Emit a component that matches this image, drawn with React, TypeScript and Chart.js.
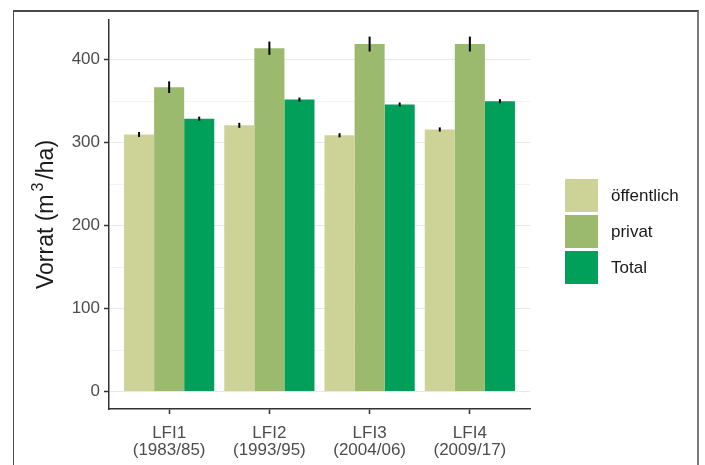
import React, { useEffect, useRef } from "react";
import { Chart, registerables } from "chart.js";

Chart.register(...registerables);

const categories: string[][] = [
  ["LFI1", "(1983/85)"],
  ["LFI2", "(1993/95)"],
  ["LFI3", "(2004/06)"],
  ["LFI4", "(2009/17)"],
];
const seriesNames = ["öffentlich", "privat", "Total"];
const oeffentlich = [310, 321, 309, 316];
const privat = [367, 414, 419, 419];
const total = [329, 352, 346, 350];
const errOeffentlich = [3, 3, 2.5, 2.5];
const errPrivat = [7, 8, 9, 9];
const errTotal = [2.5, 2.5, 2.5, 2.5];
const yTicks = [0, 50, 100, 150, 200, 250, 300, 350, 400];
const titleParts = ["Vorrat (m", "3", "/ha)"];
const colors = ["#cdd396", "#9bba6e", "#00a05a"];

const FONT = "'Liberation Sans', Arial, sans-serif";

const errorBarPlugin = {
  id: "errorBars",
  afterDatasetsDraw(chart: any) {
    const ctx = chart.ctx;
    const yScale = chart.scales.y;
    chart.data.datasets.forEach((ds: any, di: number) => {
      const meta = chart.getDatasetMeta(di);
      const errs: number[] = ds.errors || [];
      meta.data.forEach((bar: any, i: number) => {
        const v = ds.data[i].y;
        const e = errs[i] || 0;
        const y1 = yScale.getPixelForValue(v + e);
        const y2 = yScale.getPixelForValue(v - e);
        ctx.save();
        ctx.strokeStyle = "#000";
        ctx.lineWidth = 2;
        ctx.beginPath();
        ctx.moveTo(bar.x, y1);
        ctx.lineTo(bar.x, y2);
        ctx.stroke();
        ctx.restore();
      });
    });
  },
};

const legendPlugin = {
  id: "customLegend",
  afterDraw(chart: any) {
    const ctx = chart.ctx;
    const x0 = 565;
    const top = 179;
    const box = 33;
    const step = 36;
    ctx.save();
    chart.data.datasets.forEach((ds: any, i: number) => {
      const y = top + i * step;
      ctx.fillStyle = ds.backgroundColor;
      ctx.fillRect(x0, y, box, box);
      ctx.fillStyle = "#1a1a1a";
      ctx.font = `17px ${FONT}`;
      ctx.textBaseline = "middle";
      ctx.textAlign = "left";
      ctx.fillText(ds.label, x0 + 46, y + box / 2 + 1);
    });
    ctx.restore();
  },
};

const yTitlePlugin = {
  id: "yTitle",
  afterDraw(chart: any) {
    const ctx = chart.ctx;
    const area = chart.chartArea;
    const cx = 45;
    const cy = (area.top + area.bottom) / 2;
    const big = `23px ${FONT}`;
    const small = `16px ${FONT}`;
    ctx.save();
    ctx.fillStyle = "#1a1a1a";
    ctx.font = big;
    const w1 = ctx.measureText(titleParts[0]).width;
    const w3 = ctx.measureText(titleParts[2]).width;
    ctx.font = small;
    const w2 = ctx.measureText(titleParts[1]).width;
    const gap = 3;
    const totalW = w1 + gap + w2 + gap + w3;
    ctx.translate(cx, cy);
    ctx.rotate(-Math.PI / 2);
    ctx.textBaseline = "alphabetic";
    ctx.textAlign = "left";
    let x = -totalW / 2;
    const base = 8;
    ctx.font = big;
    ctx.fillText(titleParts[0], x, base);
    x += w1 + gap;
    ctx.font = small;
    ctx.fillText(titleParts[1], x, base - 10);
    x += w2 + gap;
    ctx.font = big;
    ctx.fillText(titleParts[2], x, base);
    ctx.restore();
  },
};

export default function App() {
  const ref = useRef<HTMLCanvasElement | null>(null);

  useEffect(() => {
    if (!ref.current) return;
    const mk = (vals: number[]) => vals.map((v, i) => ({ x: i, y: v }));
    const chart = new Chart(ref.current, {
      type: "bar",
      data: {
        datasets: [
          { label: seriesNames[0], data: mk(oeffentlich), backgroundColor: colors[0], errors: errOeffentlich } as any,
          { label: seriesNames[1], data: mk(privat), backgroundColor: colors[1], errors: errPrivat } as any,
          { label: seriesNames[2], data: mk(total), backgroundColor: colors[2], errors: errTotal } as any,
        ],
      },
      options: {
        animation: false,
        responsive: false,
        events: [],
        layout: { padding: { left: 0, top: 20, right: 175, bottom: 0 } },
        datasets: { bar: { categoryPercentage: 0.9, barPercentage: 1.0, borderWidth: 0 } },
        plugins: { legend: { display: false }, tooltip: { enabled: false } },
        scales: {
          x: {
            type: "linear",
            min: -0.6,
            max: 3.6,
            offset: false,
            afterBuildTicks: (axis: any) => {
              axis.ticks = categories.map((_, i) => ({ value: i }));
            },
            afterFit: (axis: any) => {
              axis.height = 56;
            },
            grid: {
              display: true,
              offset: false,
              drawOnChartArea: false,
              drawTicks: true,
              tickLength: 5,
              tickColor: "#333333",
              tickWidth: 1.5,
            },
            border: { display: true, color: "#333333", width: 1.5 },
            ticks: {
              autoSkip: false,
              maxRotation: 0,
              padding: 11,
              color: "#4d4d4d",
              font: { family: FONT, size: 17, lineHeight: 1.0 },
              callback: (value: any) => categories[Number(value)] ?? "",
            },
          },
          y: {
            type: "linear",
            min: -21,
            max: 448,
            afterBuildTicks: (axis: any) => {
              axis.ticks = yTicks.map((v) => ({ value: v }));
            },
            afterFit: (axis: any) => {
              axis.width = 109;
            },
            grid: {
              color: (c: any) => (c.tick && c.tick.value % 100 === 0 ? "#e8e8e8" : "#f3f3f3"),
              lineWidth: 1,
              drawTicks: true,
              tickLength: 5,
              tickWidth: 1.5,
              tickColor: (c: any) => (c.tick && c.tick.value % 100 === 0 ? "#333333" : "rgba(0,0,0,0)"),
            },
            border: { display: true, color: "#333333", width: 1.5 },
            ticks: {
              padding: 4,
              color: "#4d4d4d",
              font: { family: FONT, size: 17 },
              callback: (value: any) => (Number(value) % 100 === 0 ? String(value) : ""),
            },
          },
        },
      },
      plugins: [errorBarPlugin, legendPlugin, yTitlePlugin],
    } as any);
    return () => chart.destroy();
  }, []);

  return (
    <div style={{ position: "absolute", left: 0, top: 0, width: 705, height: 465, background: "#fff", overflow: "hidden" }}>
      <canvas ref={ref} width={705} height={465} style={{ position: "absolute", left: 0, top: 0, width: 705, height: 465 }} />
      <div
        style={{
          position: "absolute",
          left: 13,
          top: 10,
          width: 686,
          height: 480,
          borderTop: "2px solid #4a4a4a",
          borderLeft: "1.5px solid #4a4a4a",
          borderRight: "2.5px solid #7a7a7a",
          boxSizing: "border-box",
          pointerEvents: "none",
        }}
      />
    </div>
  );
}
